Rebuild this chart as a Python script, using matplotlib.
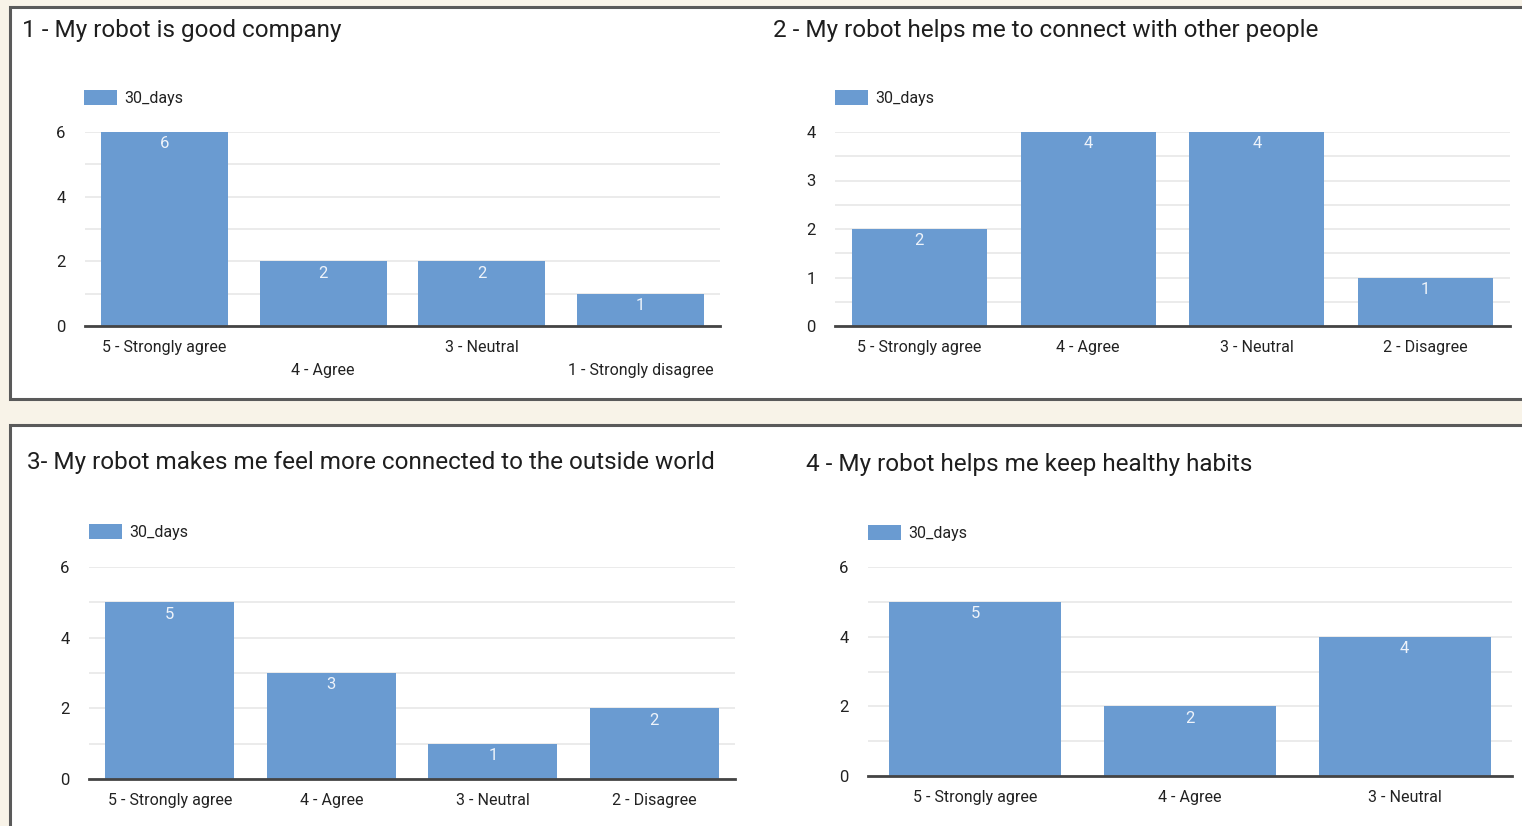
import matplotlib
matplotlib.use("Agg")
import matplotlib.pyplot as plt
from matplotlib.patches import Rectangle
from matplotlib.ticker import MultipleLocator

W, H = 1522, 826

titles = ["1 - My robot is good company",
          "2 - My robot helps me to connect with other people",
          "3- My robot makes me feel more connected to the outside world",
          "4 - My robot helps me keep healthy habits"]
cats1 = ["5 - Strongly agree", "4 - Agree", "3 - Neutral", "1 - Strongly disagree"]
vals1 = [6, 2, 2, 1]
cats2 = ["5 - Strongly agree", "4 - Agree", "3 - Neutral", "2 - Disagree"]
vals2 = [2, 4, 4, 1]
cats3 = ["5 - Strongly agree", "4 - Agree", "3 - Neutral", "2 - Disagree"]
vals3 = [5, 3, 1, 2]
cats4 = ["5 - Strongly agree", "4 - Agree", "3 - Neutral"]
vals4 = [5, 2, 4]
series_name = "30_days"

BAR = "#6a9bd1"
BG = "#f8f3e8"
FONT = ["Roboto", "DejaVu Sans"]
plt.rcParams["font.family"] = FONT

fig = plt.figure(figsize=(W / 100, H / 100), dpi=100, facecolor=BG)


def px_rect(x0, y0, x1, y1):
    return [x0 / W, 1 - y1 / H, (x1 - x0) / W, (y1 - y0) / H]


# panel boxes
for (x0, y0, x1, y1) in [(10, 7, 1540, 399), (10, 425, 1540, 850)]:
    fig.patches.append(Rectangle((x0 / W, 1 - y1 / H), (x1 - x0) / W, (y1 - y0) / H,
                                 transform=fig.transFigure, facecolor="white",
                                 edgecolor="#5a5a5a", linewidth=2.2, zorder=-5))

panels = [
    dict(cats=cats1, vals=vals1, rect=(85, 132, 720, 326), ymax=6, major=2, minor=1,
         title_xy=(22, 30), leg_xy=(84, 98), stagger=True),
    dict(cats=cats2, vals=vals2, rect=(835, 132, 1510, 326), ymax=4, major=1, minor=0.5,
         title_xy=(773, 30), leg_xy=(835, 98), stagger=False),
    dict(cats=cats3, vals=vals3, rect=(89, 567, 735, 779), ymax=6, major=2, minor=1,
         title_xy=(27, 463), leg_xy=(89, 532), stagger=False),
    dict(cats=cats4, vals=vals4, rect=(868, 567, 1512, 776), ymax=6, major=2, minor=1,
         title_xy=(806, 465), leg_xy=(868, 533), stagger=False),
]

for p, title in zip(panels, titles):
    x0, y0, x1, y1 = p["rect"]
    ax = fig.add_axes(px_rect(x0, y0, x1, y1))
    ax.set_zorder(2)
    ax.set_facecolor("none")
    n = len(p["cats"])
    xs = list(range(n))
    bars = ax.bar(xs, p["vals"], width=0.8, color=BAR, zorder=3, label=series_name)
    ax.bar_label(bars, labels=[str(v) for v in p["vals"]], padding=-14,
                 color="#eef3fa", fontsize=12, zorder=4)
    ax.set_xlim(-0.5, n - 0.5)
    ax.set_ylim(0, p["ymax"])
    ax.yaxis.set_major_locator(MultipleLocator(p["major"]))
    ax.yaxis.set_minor_locator(MultipleLocator(p["minor"]))
    ax.grid(True, which="both", axis="y", color="#e6e6e6", linewidth=1.1, zorder=0)
    ax.set_axisbelow(True)
    ax.set_xticks(xs)
    ax.set_xticklabels(p["cats"], fontsize=11.5, color="#222222")
    ax.tick_params(axis="x", length=0, pad=10)
    ax.tick_params(axis="y", which="both", length=0, pad=14, labelsize=12, labelcolor="#222222")
    if p["stagger"]:
        for i, t in enumerate(ax.xaxis.get_major_ticks()):
            if i % 2 == 1:
                t.set_pad(10 + 17)
    for s in ["top", "right", "left"]:
        ax.spines[s].set_visible(False)
    ax.spines["bottom"].set_color("#444444")
    ax.spines["bottom"].set_linewidth(2)
    ax.spines["bottom"].set_zorder(5)

    tx, ty = p["title_xy"]
    fig.text(tx / W, 1 - ty / H, title, fontsize=17.5, color="#1e1e1e", va="center", ha="left")

    lx, ly = p["leg_xy"]
    ax.legend(handles=[bars], labels=[series_name], loc="center left",
              bbox_to_anchor=(lx / W, 1 - ly / H), bbox_transform=fig.transFigure,
              frameon=False, fontsize=11.5, handlelength=2.05, handleheight=1.1,
              handletextpad=0.45, borderpad=0, borderaxespad=0, labelcolor="#222222")

fig.savefig("out.png", dpi=100, facecolor=BG)
